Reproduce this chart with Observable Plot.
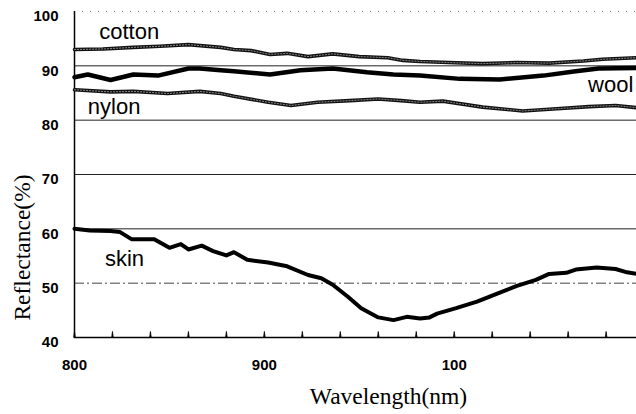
<!DOCTYPE html>
<html>
<head>
<meta charset="utf-8">
<script src="https://cdn.jsdelivr.net/npm/d3@7"></script>
<script src="https://cdn.jsdelivr.net/npm/@observablehq/plot@0.6"></script>
<style>
  html, body { margin: 0; padding: 0; background: #fff; overflow: hidden; }
  #chart { width: 636px; height: 414px; overflow: hidden; }
</style>
</head>
<body>
<div id="chart"></div>
<script>
// ---- data (wavelength nm, reflectance %) ----
const cottonNm  = [800, 815, 831, 845, 860, 877, 884, 893, 903, 912, 923, 936, 950, 965, 973, 982, 997, 1015, 1033, 1050, 1068, 1078, 1096];
const cottonVal = [93.0, 93.1, 93.4, 93.6, 93.9, 93.4, 93.0, 92.8, 92.1, 92.3, 91.7, 92.2, 91.7, 91.5, 91.0, 90.8, 90.6, 90.4, 90.6, 90.5, 90.9, 91.2, 91.5];

const woolNm  = [800, 807, 819, 831, 844, 860, 866, 877, 884, 903, 919, 936, 954, 968, 982, 1003, 1024, 1047, 1064, 1076, 1096];
const woolVal = [87.9, 88.4, 87.4, 88.4, 88.2, 89.5, 89.5, 89.2, 89.0, 88.4, 89.2, 89.5, 88.8, 88.4, 88.2, 87.6, 87.5, 88.2, 89.0, 89.5, 89.6];

const nylonNm  = [800, 819, 831, 849, 866, 877, 884, 902, 914, 928, 945, 960, 972, 982, 994, 1015, 1036, 1054, 1071, 1085, 1096];
const nylonVal = [85.6, 85.2, 85.3, 84.9, 85.3, 84.9, 84.4, 83.3, 82.7, 83.3, 83.6, 83.9, 83.6, 83.3, 83.5, 82.4, 81.7, 82.1, 82.5, 82.7, 82.3];

const skinNm  = [800, 808, 819, 824, 830, 842, 850, 856, 860, 867, 873, 880, 884, 891, 902, 912, 923, 930, 936, 944, 951, 960, 968, 975, 982, 987, 991, 1001, 1012, 1022, 1033, 1043, 1050, 1059, 1064, 1075, 1085, 1091, 1096];
const skinVal = [60.0, 59.7, 59.6, 59.4, 58.1, 58.1, 56.5, 57.2, 56.2, 56.9, 55.9, 55.1, 55.7, 54.3, 53.8, 53.1, 51.5, 50.9, 49.7, 47.5, 45.4, 43.7, 43.2, 43.8, 43.5, 43.7, 44.4, 45.4, 46.6, 48.0, 49.5, 50.6, 51.7, 51.9, 52.5, 52.9, 52.6, 52.0, 51.7];

const seriesNames = ["cotton", "wool", "nylon", "skin"];
// label anchor points (nm, %)
const labelNm  = [813, 1070.5, 807, 816];
const labelVal = [96.3, 86.4, 82.5, 54.4];

const xTicks = [800, 900, 1000];
const xTickLabels = ["800", "900", "100"];
const xMinorTicks = d3.range(800, 1100, 20);
const yTicks = [40, 50, 60, 70, 80, 90, 100];
const gridSolid = [60, 70, 80, 90];
const gridDashed = [50];
const gridTop = [100];

const xTitle = "Wavelength(nm)";
const yTitle = "Reflectance(%)";

// ---- build tables ----
const toRows = (nm, val) => nm.map((x, i) => ({x, y: val[i]}));
const cotton = toRows(cottonNm, cottonVal);
const wool = toRows(woolNm, woolVal);
const nylon = toRows(nylonNm, nylonVal);
const skin = toRows(skinNm, skinVal);
const labels = seriesNames.map((name, i) => ({name, x: labelNm[i], y: labelVal[i]}));

const sans = "Arial, 'Liberation Sans', Helvetica, sans-serif";
const serif = "'Times New Roman', 'Liberation Serif', Times, serif";

const beaded = (rows) => [
  Plot.line(rows, {x: "x", y: "y", stroke: "#111", strokeWidth: 3.6}),
  Plot.line(rows, {x: "x", y: "y", stroke: "#fff", strokeWidth: 1, strokeOpacity: 0.5, strokeDasharray: "1.2,1.8"})
];

const chart = Plot.plot({
  width: 636,
  height: 414,
  marginLeft: 74,
  marginRight: 0,
  marginTop: 11,
  marginBottom: 77,
  style: {background: "#fff", color: "#000", overflow: "visible"},
  x: {domain: [800, 1096]},
  y: {domain: [40, 100]},
  marks: [
    Plot.ruleY(gridTop, {stroke: "#888", strokeWidth: 1, strokeDasharray: "1,7"}),
    Plot.ruleY(gridSolid, {stroke: "#222", strokeWidth: 1}),
    Plot.ruleY(gridDashed, {stroke: "#444", strokeWidth: 1, strokeDasharray: "10,3,2,3"}),
    Plot.ruleX([800], {stroke: "#000", strokeWidth: 1.5}),
    Plot.ruleY([40], {stroke: "#000", strokeWidth: 1.5}),
    Plot.vector(xMinorTicks, {x: (d) => d, y: 40, length: 6, rotate: 0, anchor: "start", shape: "spike", r: 0.8, stroke: "#000", fill: "#000", strokeWidth: 0.8}),
    Plot.axisX(xTicks, {
      tickSize: 0, tickPadding: 22,
      tickFormat: (d) => xTickLabels[xTicks.indexOf(d)],
      fontSize: 15, fontWeight: "bold", fontFamily: sans, label: null
    }),
    Plot.axisY(yTicks, {
      tickSize: 0, tickPadding: 16, dy: 5,
      fontSize: 15, fontWeight: "bold", fontFamily: sans, label: null
    }),
    Plot.text([xTitle], {frameAnchor: "bottom", textAnchor: "middle", dx: 33, dy: 66, fontSize: 23.5, fontFamily: serif, fill: "#000"}),
    Plot.text([yTitle], {frameAnchor: "left", textAnchor: "middle", rotate: -90, dx: -52, dy: 73, fontSize: 23.5, fontFamily: serif, fill: "#000"}),
    ...beaded(nylon),
    ...beaded(cotton),
    Plot.line(wool, {x: "x", y: "y", stroke: "#000", strokeWidth: 4.5}),
    Plot.line(skin, {x: "x", y: "y", stroke: "#000", strokeWidth: 4}),
    Plot.text(labels, {x: "x", y: "y", text: "name", textAnchor: "start", fontSize: 22, fontFamily: sans, fill: "#000"})
  ]
});
document.getElementById("chart").append(chart);
</script>
</body>
</html>
